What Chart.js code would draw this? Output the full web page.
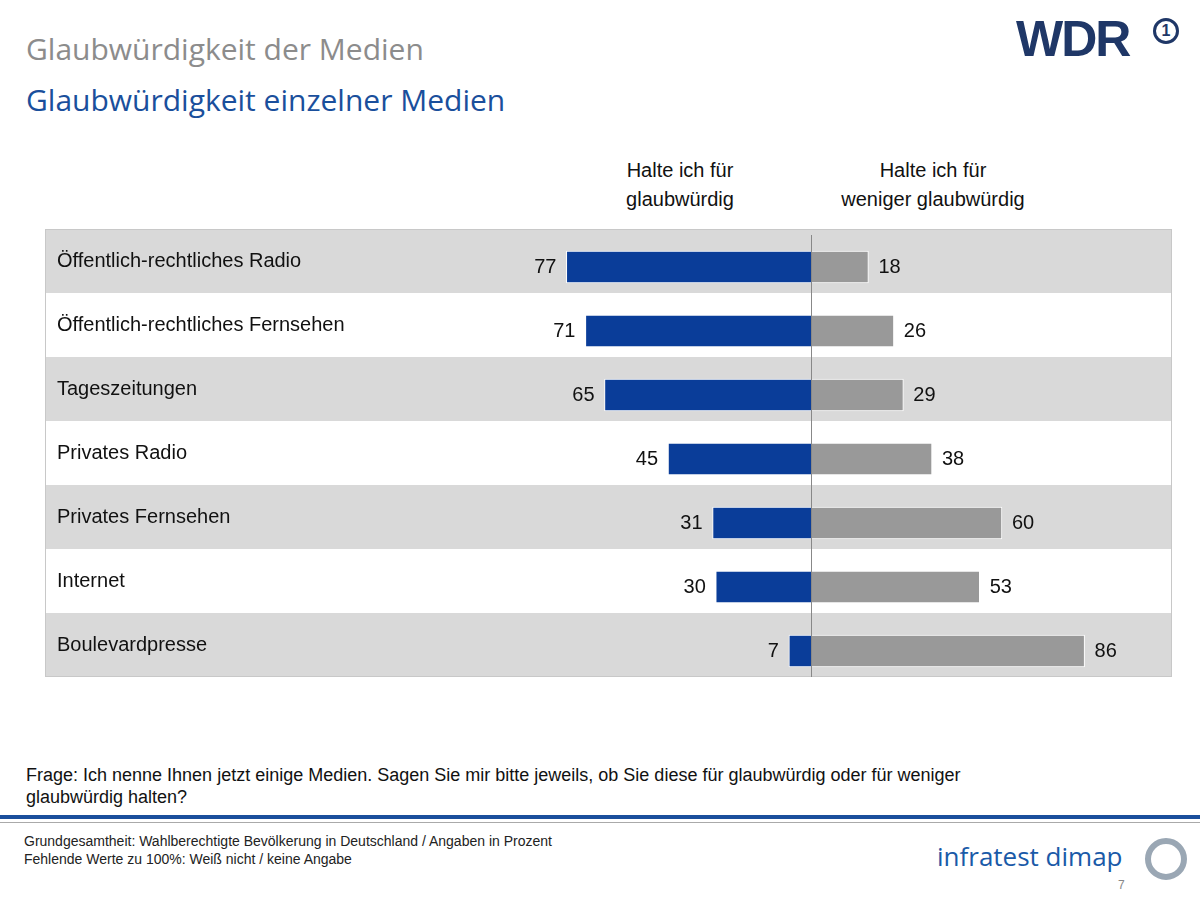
<!DOCTYPE html>
<html><head><meta charset="utf-8">
<script src="https://cdn.jsdelivr.net/npm/chart.js@4"></script>
<style>
body{margin:0;width:1200px;height:900px;background:#fff;font-family:"Liberation Sans",Arial,sans-serif;position:relative;overflow:hidden}
.a{position:absolute;white-space:nowrap}
</style></head><body>
<div class="a" style="left:26px;top:28px;font:30px 'Open Sans',sans-serif;color:#8c8c8c">Glaubwürdigkeit der Medien</div>
<div class="a" style="left:26px;top:79px;font:30px 'Open Sans',sans-serif;color:#1a4f9c">Glaubwürdigkeit einzelner Medien</div>
<div class="a" style="left:1016px;top:10px;font:bold 50px 'Liberation Sans',sans-serif;color:#1f3767;letter-spacing:-2px">WDR</div>
<div class="a" style="left:1153px;top:18px;width:20px;height:20px;border:3px solid #1f3767;border-radius:50%;font:bold 16px sans-serif;color:#1f3767;text-align:center;line-height:20px">1</div>
<div class="a" style="left:580px;top:156px;width:200px;text-align:center;font:20px 'Liberation Sans';color:#111;line-height:29px">Halte ich für<br>glaubwürdig</div>
<div class="a" style="left:803px;top:156px;width:260px;text-align:center;font:20px 'Liberation Sans';color:#111;line-height:29px">Halte ich für<br>weniger glaubwürdig</div>
<div class="a" style="left:45px;top:223px;width:1127px;height:460px"><canvas id="c"></canvas></div>
<div class="a" style="left:26px;top:764px;font:18px 'Liberation Sans';color:#111;line-height:22px;white-space:normal;width:1100px">Frage: Ich nenne Ihnen jetzt einige Medien. Sagen Sie mir bitte jeweils, ob Sie diese für glaubwürdig oder für weniger<br>glaubwürdig halten?</div>
<div class="a" style="left:0;top:815px;width:1200px;height:4px;background:#1a4f9c"></div>
<div class="a" style="left:0;top:822px;width:1200px;height:1px;background:#aaa"></div>
<div class="a" style="left:24px;top:832px;font:14px 'Liberation Sans';color:#222;line-height:18px">Grundgesamtheit: Wahlberechtigte Bevölkerung in Deutschland / Angaben in Prozent<br>Fehlende Werte zu 100%: Weiß nicht / keine Angabe</div>
<div class="a" style="left:937px;top:838px;font:26px 'Open Sans',sans-serif;color:#1a5aa8">infratest dimap</div>
<div class="a" style="left:1145px;top:838px;width:30px;height:30px;border:6px solid #9aa7b4;border-radius:50%"></div>
<div class="a" style="left:1118px;top:878px;font:12px sans-serif;color:#888">7</div>
<script>
const categories=["Öffentlich-rechtliches Radio","Öffentlich-rechtliches Fernsehen","Tageszeitungen","Privates Radio","Privates Fernsehen","Internet","Boulevardpresse"];
const glaubwuerdig=[77,71,65,45,31,30,7];
const wenigerGlaubwuerdig=[18,26,29,38,60,53,86];
const plug={id:'p',
beforeDatasetsDraw(ch){const c=ch.ctx,y=ch.scales.y,a=ch.chartArea;
 const h=(a.bottom-a.top)/categories.length;
 categories.forEach((t,i)=>{const yc=y.getPixelForValue(i);
  c.fillStyle=i%2==0?'#d9d9d9':'#fff';c.fillRect(a.left,yc-h/2-6,a.right-a.left,h);
  c.fillStyle='#111';c.font='20px "Liberation Sans"';c.textBaseline='middle';c.textAlign='left';c.fillText(t,12,yc-6);});
 c.strokeStyle='#c8c8c8';c.lineWidth=1;c.strokeRect(a.left+0.5,a.top-5.5,a.right-a.left-1,a.bottom-a.top-1);
},
afterDatasetsDraw(ch){const c=ch.ctx,y=ch.scales.y,x=ch.scales.x,a=ch.chartArea;
 const x0=Math.round(x.getPixelForValue(0))+0.5;
 c.strokeStyle='#888';c.lineWidth=1;c.beginPath();c.moveTo(x0,a.top);c.lineTo(x0,a.bottom-6);c.stroke();
 c.fillStyle='#111';c.font='20px "Liberation Sans"';c.textBaseline='middle';
 categories.forEach((t,i)=>{const yc=y.getPixelForValue(i);
  c.textAlign='right';c.fillText(glaubwuerdig[i],x.getPixelForValue(-glaubwuerdig[i])-10,yc);
  c.textAlign='left';c.fillText(wenigerGlaubwuerdig[i],x.getPixelForValue(wenigerGlaubwuerdig[i])+10,yc);});
}};
new Chart(document.getElementById('c'),{type:'bar',
data:{labels:categories,datasets:[
 {data:glaubwuerdig.map(v=>-v),backgroundColor:'#0a3d99',borderColor:'#fff',borderWidth:{top:1,bottom:1,left:1,right:0},borderSkipped:false,barThickness:32},
 {data:wenigerGlaubwuerdig,backgroundColor:'#999999',borderColor:'#fff',borderWidth:{top:1,bottom:1,left:0,right:1},borderSkipped:false,barThickness:32}]},
options:{indexAxis:'y',responsive:true,maintainAspectRatio:false,animation:false,
 layout:{padding:{top:12,bottom:0,left:0,right:0}},
 plugins:{legend:{display:false},tooltip:{enabled:false}},
 scales:{x:{display:false,stacked:true,min:-241,max:113.5},
  y:{display:false,stacked:true,offset:true,grid:{display:false}}}},
plugins:[plug]});
</script>
</body></html>
